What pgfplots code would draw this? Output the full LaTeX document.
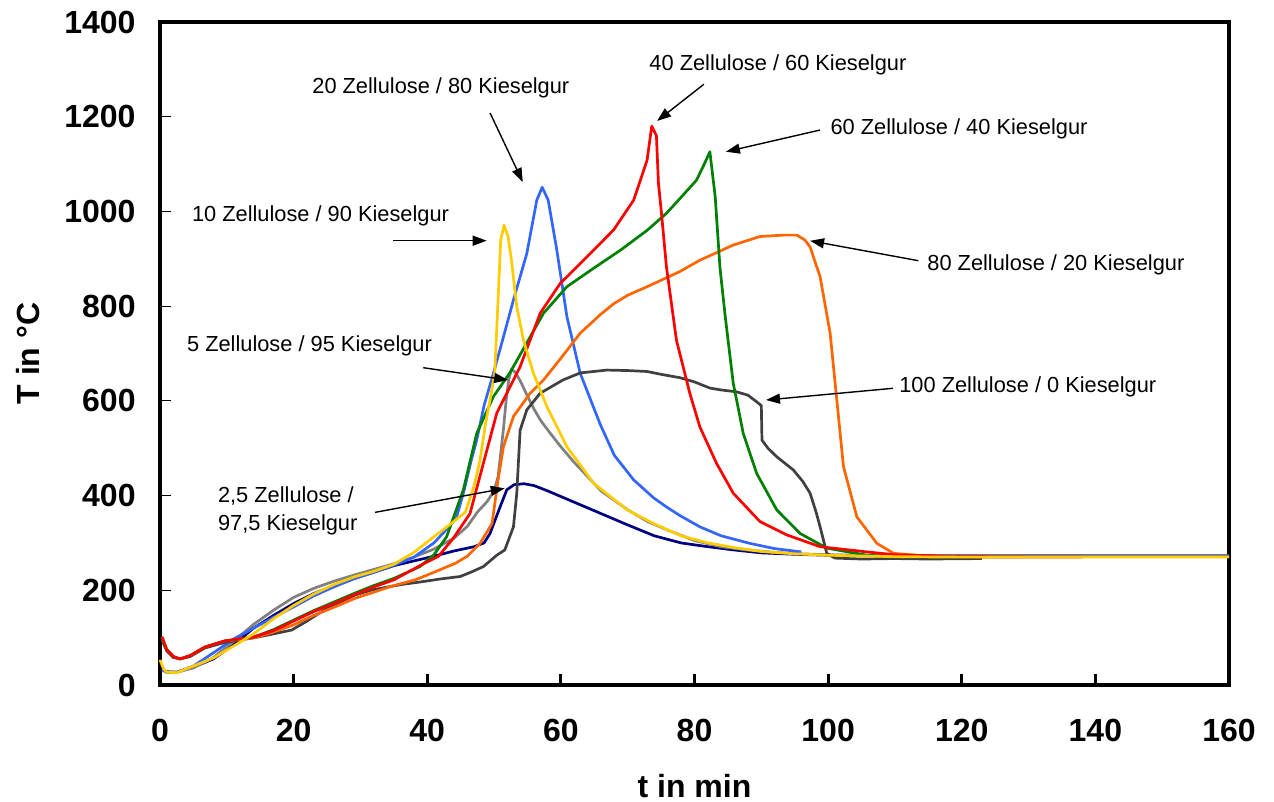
\documentclass[border=0pt]{standalone}
\usepackage{fontspec}
\setmainfont{Liberation Sans}
\usepackage{pgfplots}
\pgfplotsset{compat=1.18}
\usetikzlibrary{arrows.meta}
\definecolor{cnavy}{HTML}{000080}
\definecolor{cgrey}{HTML}{808080}
\definecolor{cyellow}{HTML}{FFCC00}
\definecolor{cblue}{HTML}{3366FF}
\definecolor{cred}{HTML}{FF0000}
\definecolor{cgreen}{HTML}{008000}
\definecolor{corange}{HTML}{FF6600}
\definecolor{cdark}{HTML}{404040}
\newcommand{\annfont}{\fontsize{10.9bp}{13bp}\selectfont}
\tikzset{annarrow/.style={-{Triangle[length=7bp,width=5bp]}, line width=0.7bp, black}}
\begin{document}
\begin{tikzpicture}
\begin{axis}[
 scale only axis, width=534.5bp, height=331.5bp,
 xmin=0, xmax=160, ymin=0, ymax=1400,
 xtick={0,20,...,160}, ytick={0,200,...,1400},
 tick align=inside, xtick pos=bottom, ytick pos=left,
 major tick length=5.5bp,
 axis line style={line width=1.6bp},
 xtick style={line width=1.4bp, black},
 ytick style={line width=0.6bp, black},
 /pgf/number format/assume math mode=true,
 /pgf/number format/1000 sep={},
 tick label style={font=\fontsize{16bp}{19bp}\selectfont\bfseries},
 xticklabel style={yshift=-13.5bp},
 yticklabel style={xshift=-8.7bp},
 xlabel={t in min}, ylabel={T in °C},
 label style={font=\fontsize{16bp}{19bp}\selectfont\bfseries},
 xlabel style={at={(axis description cs:0.5,-0.152)}, anchor=center},
 ylabel style={at={(axis description cs:-0.1235,0.5)}, anchor=center},
 clip=false,
 every axis plot/.append style={line width=1.35bp, line join=round, mark=none},
]
% 2,5 / 97,5
\addplot[cnavy] coordinates {(0.3,35)(1,28)(2.5,27)(5,38)(8,55)(11,85)(14,120)(17,147)(20,172)(23,193)(26,210)(29,225)(32,238)(35,252)(38,262)(41,272)(44,283)(47,292)(48.5,300)(49.4,320)(50.2,350)(50.9,376)(51.9,412)(53,423)(54.5,425)(56,421)(58,410)(60,398)(63,380)(66,362)(70,338)(74,315)(78,300)(82,292)(86,285)(90,279)(95,276)(100,274)(110,273)(120,273)(140,273)(160,273)};
% 5 / 95
\addplot[cgrey] coordinates {(0.3,32)(1,27)(2.5,27)(5,36)(8,58)(11,92)(14,128)(17,158)(20,185)(23,204)(26,219)(29,232)(32,244)(35,256)(38,270)(41,287)(44,310)(46,335)(47.5,365)(49,388)(50,410)(50.6,440)(51,490)(51.4,540)(51.8,600)(52.2,645)(52.6,667)(53.2,660)(54,640)(55,610)(56,582)(57,558)(58.5,530)(60,503)(62,470)(64,440)(66,410)(68,390)(70,370)(73,345)(76,327)(80,305)(84,292)(88,285)(92,280)(96,277)(100,275)(110,273)(120,273)(140,273)(160,273)};
% 20 / 80
\addplot[cblue] coordinates {(0.3,32)(1,27)(2.5,27)(5,40)(8,68)(11,97)(14,120)(17,143)(20,165)(23,188)(26,207)(29,224)(32,238)(35,253)(38,270)(41,300)(43.5,338)(44.4,355)(45.5,410)(46.5,470)(47.4,517)(48.5,590)(49.9,658)(51.5,740)(52.9,813)(54.9,911)(56.4,1024)(57.2,1051)(58.1,1024)(59.4,918)(60.9,778)(62.9,658)(65.9,550)(68,485)(70.9,433)(73.9,395)(75.8,376)(77.8,358)(80.8,334)(84,315)(88.3,299)(92,288)(96,281)};
% 100 / 0
\addplot[cdark] coordinates {(0.3,95)(1,72)(2,58)(3,55)(4.5,60)(6.7,78)(9.7,90)(14.2,100)(17,108)(19.7,116)(22,135)(24.2,155)(26.5,172)(29.2,190)(31.5,200)(34.1,207)(36.5,213)(39.2,218)(42,224)(44.9,229)(46.5,238)(48.4,250)(50.4,274)(51.6,285)(52.9,334)(53.4,405)(53.9,538)(54.9,581)(56.9,616)(60.3,644)(62.9,659)(66.9,665)(70,664)(72.9,662)(75,656)(77.8,649)(80,640)(82.3,627)(84,623)(86.3,619)(88,612)(89.3,598)(90,590)(90.1,517)(91,500)(92.3,482)(94.8,454)(96.2,430)(97.3,405)(98.2,365)(98.8,334)(99.8,278)(101,268)(105,266)(110,267)(115,266)(123,267)};
% 80 / 20
\addplot[corange] coordinates {(0.3,100)(1,75)(2,60)(3,55)(4.5,62)(6.7,80)(9.7,93)(14.2,100)(17,112)(20,127)(23,147)(26.2,165)(29,182)(32.2,197)(35,210)(38.2,222)(41,238)(44.2,257)(46,272)(47.9,299)(49.7,341)(50.6,433)(51.4,503)(52.9,567)(55.4,616)(57.4,644)(60,690)(62.9,743)(65.9,782)(67.9,805)(70,823)(72.9,841)(77.8,873)(80.8,897)(85.8,929)(89.8,947)(93.3,950)(95.3,950)(96.5,940)(97.3,925)(98.8,862)(100.3,743)(101.3,602)(102.3,461)(104.3,355)(107.3,299)(109.8,278)(115,272)(125,270)};
% 60 / 40
\addplot[cgreen] coordinates {(0.3,100)(1,75)(2,60)(3,55)(4.5,62)(6.7,80)(9.7,93)(14.2,102)(17,117)(20,137)(23,157)(26,175)(29,193)(32,210)(35,225)(38.9,250)(41,275)(42.9,313)(45.4,412)(47.4,531)(49.9,609)(52.4,660)(55,725)(57.4,785)(60.9,841)(64.9,880)(68.9,918)(72.9,960)(75.8,996)(78,1030)(80.3,1066)(81.3,1095)(82.3,1126)(83.1,1031)(83.8,883)(84.6,778)(85.8,637)(87.3,531)(89.3,447)(92.3,370)(95.8,320)(99.8,289)(105.8,274)(112,270)};
% 40 / 60
\addplot[cred] coordinates {(0.3,102)(1,75)(2,60)(3,55)(4.5,62)(6.7,80)(9.7,93)(14.2,102)(17,115)(20,135)(23,155)(26,172)(29,190)(32,207)(35,222)(38.9,252)(41.7,272)(43.9,310)(46.4,362)(48.4,468)(50.4,574)(52.9,644)(53.9,672)(56.9,785)(59.9,848)(63.9,904)(67.9,961)(70.9,1024)(72.9,1108)(73.6,1180)(74.3,1160)(74.6,1060)(75.1,990)(75.8,883)(77.3,728)(79.3,616)(80.8,545)(83.3,468)(85.8,405)(89.8,345)(93.8,317)(98.8,292)(105.8,281)(110,275)(120,271)(130,270)(138,270)};
% 10 / 90
\addplot[cyellow] coordinates {(0,53)(0.5,35)(1,27)(2.5,26)(5,40)(8,57)(11,82)(14,108)(17,140)(20,168)(23,192)(26,212)(29,228)(32,240)(35,255)(38,280)(41,313)(43.5,340)(45.7,365)(47,420)(47.9,475)(48.7,550)(49.4,602)(50.1,659)(50.6,813)(51,940)(51.5,971)(52.1,947)(52.6,897)(53.4,799)(54.4,728)(55.9,658)(57.9,588)(60.9,503)(64.9,426)(69.9,370)(74,340)(78,315)(82,300)(86,290)(90,282)(95,277)(100,274)(110,271)(120,270)(130,270)(140,270)(150,270)(160,270)};

% annotations
\node[anchor=base west, font=\annfont, inner sep=0] at (axis cs:22.75,1250) {20 Zellulose / 80 Kieselgur};
\draw[annarrow] (axis cs:49.4,1208) -- (axis cs:54.3,1062);
\node[anchor=base west, font=\annfont, inner sep=0] at (axis cs:73.2,1298.6) {40 Zellulose / 60 Kieselgur};
\draw[annarrow] (axis cs:81.4,1268.5) -- (axis cs:74.4,1191);
\node[anchor=base west, font=\annfont, inner sep=0] at (axis cs:100.3,1161.4) {60 Zellulose / 40 Kieselgur};
\draw[annarrow] (axis cs:98.8,1171.9) -- (axis cs:84.7,1126);
\node[anchor=base west, font=\annfont, inner sep=0] at (axis cs:4.74,978.3) {10 Zellulose / 90 Kieselgur};
\draw[annarrow] (axis cs:34.9,938.2) -- (axis cs:48.9,938.2);
\node[anchor=base west, font=\annfont, inner sep=0] at (axis cs:4.0,703.8) {5 Zellulose / 95 Kieselgur};
\draw[annarrow] (axis cs:39.4,670) -- (axis cs:52.1,644);
\node[anchor=base west, font=\annfont, inner sep=0] at (axis cs:114.8,874.8) {80 Zellulose / 20 Kieselgur};
\draw[annarrow] (axis cs:113.5,896) -- (axis cs:97.3,938);
\node[anchor=base west, font=\annfont, inner sep=0] at (axis cs:110.6,617.2) {100 Zellulose / 0 Kieselgur};
\draw[annarrow] (axis cs:109.7,626.5) -- (axis cs:90.7,601.8);
\node[anchor=base west, font=\annfont, inner sep=0] at (axis cs:8.63,385.8) {2,5 Zellulose /};
\node[anchor=base west, font=\annfont, inner sep=0] at (axis cs:8.63,325.8) {97,5 Kieselgur};
\draw[annarrow] (axis cs:32.2,364.6) -- (axis cs:51.6,415.3);

\coordinate (sw) at (rel axis cs:0,0);
\coordinate (ne) at (rel axis cs:1,1);
\end{axis}
\pgfresetboundingbox
\path[use as bounding box] ([shift={(-80bp,-58.5bp)}]sw) rectangle ([shift={(22.5bp,11bp)}]ne);
\end{tikzpicture}
\end{document}
